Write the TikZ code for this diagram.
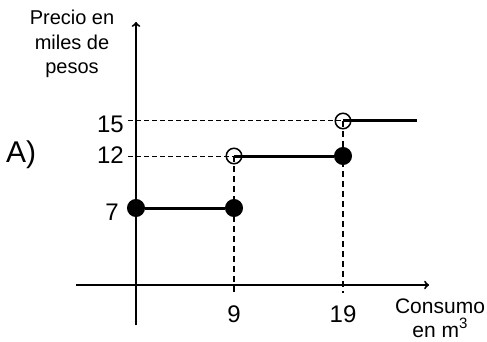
\documentclass[tikz,border=0pt]{standalone}
\usepackage{fontspec}
\setmainfont{Liberation Sans}
\begin{document}
\begin{tikzpicture}[x=1pt,y=-1pt]

      \useasboundingbox (0,0) rectangle (487,342);

      \coordinate (ytop)   at (136,22);
      \coordinate (ybot)   at (136,325);
      \coordinate (xleft)  at (76,285);
      \coordinate (xright) at (429,285);
      \coordinate (t9)     at (234,293);
      \coordinate (t19)    at (343,293);
      \coordinate (h12)    at (128,156);
      \coordinate (h15)    at (128,121);
      \coordinate (rend)   at (417,121);

      \begin{scope}[every node/.style={circle,draw,line width=1.5pt,inner sep=0pt}]
        \node[fill=black,minimum size=16.5pt] (a) at (136,208) {};
        \node[fill=black,minimum size=16.5pt] (b) at (234,208) {};
        \node[fill=black,minimum size=16.5pt] (c) at (343,156) {};
        \node[minimum size=15.5pt] (d) at (234,156) {};
        \node[minimum size=15.5pt] (e) at (343,121) {};
      \end{scope}

      \draw[line width=2pt,->] (ybot) -- (ytop);
      \draw[line width=2pt,->] (xleft) -- (xright);

      \begin{scope}[dash pattern=on 6pt off 4pt]
        \draw[line width=2pt] (d.center) -- (t9);
        \draw[line width=2pt] (e.center) -- (t19);
      \end{scope}
      \begin{scope}[dash pattern=on 5pt off 3pt]
        \draw[line width=1pt] (h12) -- (d.center);
        \draw[line width=1pt] (h15) -- (e.center);
      \end{scope}

      \draw[line width=3pt] (a) -- (b);
      \draw[line width=3pt] (d.center) -- (c);
      \draw[line width=3pt] (e.center) -- (rend);

      \begin{scope}[every node/.style={inner sep=0pt}]
        \node[anchor=base east,font=\fontsize{24}{28}\selectfont] (l15) at (124,132) {15};
        \node[anchor=base east,font=\fontsize{24}{28}\selectfont] (l12) at (124,163) {12};
        \node[anchor=base east,font=\fontsize{24}{28}\selectfont] (l7)  at (119,220) {7};
        \node[anchor=base,font=\fontsize{24}{28}\selectfont] (l9)  at (234,322) {9};
        \node[anchor=base,font=\fontsize{24}{28}\selectfont] (l19) at (343,322) {19};
        \node[anchor=base west,font=\fontsize{30}{34}\selectfont] (lab) at (6,162) {A)};
        \node[anchor=north,align=center,font=\fontsize{21}{24}\selectfont] (xtitle) at (440,299)
          {Consumo\\en m\raisebox{9pt}{\fontsize{15}{15}\selectfont 3}};
        \node[anchor=north,align=center,font=\fontsize{20}{24.5}\selectfont] (ytitle) at (72,10)
          {Precio en\\miles de\\pesos};
      \end{scope}

    \end{tikzpicture}
\end{document}
